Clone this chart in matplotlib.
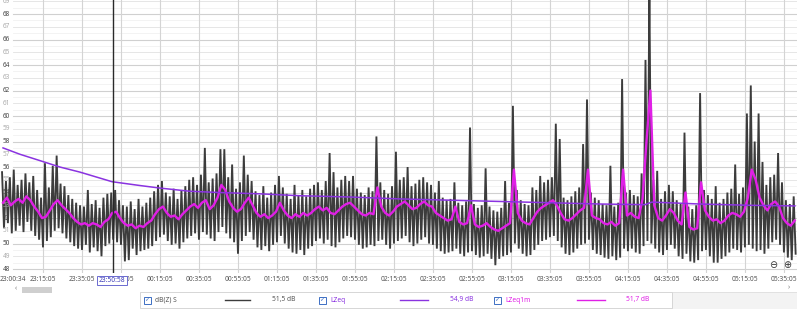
import numpy as np
import matplotlib
matplotlib.use('Agg')
import matplotlib.pyplot as plt
from matplotlib.patches import Rectangle
from matplotlib.lines import Line2D

plt.rcParams['font.family'] = ['Noto Sans', 'DejaVu Sans']

# ---- data (minutes after 23:15:05, one bin every 2 min) ----
t_start = -20.5
bin_min = 2.0

lzeq1m = [53.2, 53.6, 53.0, 53.3, 53.5, 53.2, 53.7, 53.4, 52.9, 52.5,
          52.0, 52.1, 52.6, 53.1, 53.4, 53.0, 52.7, 52.4, 52.0, 51.7,
          51.5, 51.6, 51.4, 51.6, 51.5, 51.3, 51.7, 51.9, 52.4, 52.5,
          52.0, 51.6, 51.4, 51.5, 51.2, 51.4, 51.3, 51.6, 51.8, 52.3,
          52.7, 52.9, 52.4, 52.1, 52.2, 51.9, 52.3, 52.6, 52.9, 53.1,
          52.8, 53.2, 53.4, 52.7, 53.0, 53.6, 54.6, 54.2, 53.3, 52.8,
          52.5, 52.7, 53.2, 53.6, 53.0, 52.4, 52.1, 52.3, 52.0, 52.2,
          52.5, 53.2, 52.6, 52.2, 52.0, 52.3, 52.1, 52.4, 52.2, 52.4,
          52.7, 52.9, 52.6, 52.8, 52.4, 52.3, 52.6, 52.9, 53.1, 53.2,
          52.9, 52.6, 52.3, 52.2, 52.4, 52.3, 54.4, 52.9, 52.4, 52.2,
          52.5, 52.9, 53.1, 53.3, 53.0, 52.7, 52.8, 53.1, 53.3, 53.0,
          52.9, 52.4, 52.2, 52.0, 51.8, 51.9, 52.9, 51.7, 51.5, 51.6,
          53.0, 51.5, 51.3, 51.4, 51.6, 51.3, 51.1, 51.0, 51.2, 51.4,
          51.6, 55.8, 52.4, 51.8, 51.6, 51.5, 52.0, 52.5, 52.8, 53.0,
          53.2, 53.4, 53.0, 52.4, 51.9, 51.8, 52.0, 52.3, 52.6, 52.8,
          55.8, 52.2, 52.0, 51.9, 51.6, 51.5, 51.7, 51.4, 51.6, 55.8,
          52.2, 52.4, 52.1, 52.0, 53.5, 58.0, 62.0, 53.0, 52.0, 51.8,
          52.2, 52.7, 52.4, 51.8, 51.5, 54.0, 51.3, 51.1, 51.2, 54.8,
          52.6, 52.1, 51.8, 51.9, 51.6, 51.8, 52.2, 52.4, 52.3, 52.1,
          52.5, 53.6, 55.8, 55.0, 53.6, 53.0, 52.6, 53.1, 53.3, 52.9,
          52.0, 51.6, 51.4, 51.8]

# dB(Z) S: highest and lowest reading inside each bin
dbz_hi = [55.6, 54.9, 55.2, 55.8, 54.6, 55.0, 55.5, 54.8, 55.3, 54.2,
          53.6, 56.3, 54.4, 56.1, 56.9, 54.7, 54.5, 53.8, 53.5, 53.2,
          53.0, 52.9, 54.2, 53.1, 53.4, 52.8, 53.6, 53.9, 54.0, 54.2,
          53.4, 53.0, 52.9, 53.3, 52.7, 53.5, 52.9, 53.2, 53.6, 54.1,
          54.6, 54.9, 54.0, 53.7, 54.3, 53.5, 54.2, 54.5, 55.0, 55.2,
          54.6, 55.4, 57.5, 54.8, 55.1, 55.5, 57.4, 57.4, 55.2, 56.2,
          54.3, 54.8, 56.9, 55.4, 54.9, 54.1, 53.8, 54.5, 53.6, 54.0,
          54.6, 55.3, 54.4, 53.9, 53.5, 54.6, 53.8, 54.2, 53.7, 54.3,
          54.6, 54.8, 54.2, 54.9, 57.1, 55.6, 54.4, 55.0, 55.3, 54.9,
          55.3, 54.3, 54.0, 53.8, 54.4, 54.1, 58.4, 54.8, 54.2, 53.9,
          54.5, 57.2, 55.0, 55.2, 56.0, 54.5, 54.7, 55.0, 55.2, 54.8,
          54.6, 54.0, 54.9, 53.6, 53.4, 53.5, 54.8, 53.2, 53.0, 53.3,
          59.1, 53.1, 52.8, 53.0, 55.9, 52.9, 52.6, 52.5, 52.8, 54.9,
          53.2, 60.8, 54.2, 53.4, 53.1, 53.0, 54.4, 54.2, 55.3, 54.8,
          55.0, 55.2, 59.4, 58.2, 53.6, 53.4, 53.7, 54.1, 54.4, 57.8,
          61.3, 54.0, 53.6, 53.4, 53.1, 53.0, 56.1, 52.9, 53.2, 62.9,
          54.0, 54.2, 53.8, 53.7, 55.5, 64.4, 70.0, 55.0, 55.7, 53.5,
          54.1, 54.6, 54.1, 53.4, 53.1, 58.7, 52.9, 52.7, 53.0, 61.8,
          54.2, 53.8, 53.5, 54.5, 53.2, 53.5, 54.0, 54.3, 56.2, 53.9,
          54.4, 60.2, 62.4, 58.0, 60.2, 56.4, 54.6, 55.2, 55.4, 57.1,
          54.8, 53.4, 53.1, 53.7]

dbz_lo = [51.2, 51.6, 50.8, 51.0, 51.4, 50.9, 51.7, 51.0, 50.6, 50.3,
          49.7, 50.2, 50.5, 51.0, 51.2, 50.8, 50.4, 50.1, 49.8, 49.6,
          49.5, 49.9, 49.3, 49.7, 49.4, 49.0, 49.8, 50.0, 50.3, 50.1,
          49.9, 48.6, 48.7, 49.6, 49.1, 49.4, 49.5, 49.6, 49.8, 50.2,
          50.5, 50.7, 50.2, 49.9, 50.0, 49.6, 50.1, 50.4, 50.6, 50.8,
          50.3, 50.9, 50.7, 50.4, 50.2, 50.9, 51.3, 50.8, 50.4, 50.1,
          49.2, 50.2, 50.6, 50.9, 50.3, 49.7, 49.5, 49.8, 49.4, 49.9,
          50.1, 50.6, 50.0, 49.6, 49.3, 49.2, 49.5, 49.1, 49.6, 49.8,
          50.2, 50.4, 50.0, 50.3, 49.8, 49.7, 50.1, 50.4, 50.6, 50.5,
          50.3, 49.9, 49.6, 49.7, 49.9, 49.8, 50.2, 50.3, 49.9, 49.6,
          50.0, 50.2, 50.4, 50.6, 50.1, 49.8, 50.0, 50.3, 50.5, 50.0,
          49.9, 49.6, 49.4, 49.2, 49.3, 49.4, 49.6, 49.2, 49.0, 49.3,
          49.4, 49.1, 48.9, 49.0, 49.2, 48.8, 48.3, 48.8, 49.0, 49.1,
          49.3, 50.0, 49.6, 49.2, 49.0, 49.1, 49.5, 49.9, 50.2, 50.3,
          50.5, 50.6, 50.2, 49.7, 49.2, 49.1, 49.3, 49.6, 49.9, 50.0,
          50.3, 49.5, 49.2, 49.1, 48.9, 48.8, 49.0, 48.7, 48.9, 49.6,
          49.4, 49.6, 49.3, 49.2, 49.8, 50.2, 50.0, 49.6, 49.3, 49.1,
          49.5, 49.9, 49.6, 49.0, 48.8, 49.2, 48.6, 48.5, 48.7, 49.4,
          49.5, 49.0, 48.5, 48.5, 48.8, 49.0, 49.3, 49.6, 49.5, 49.3,
          49.7, 49.9, 49.6, 49.4, 49.5, 49.2, 49.6, 50.1, 50.3, 49.9,
          49.3, 48.9, 48.7, 49.2]

# running LZeq
lzeq_t = [-20.5, -11.8, -1.5, 8.7, 19.0, 35.4, 49.7, 60.0, 75.4, 90.8, 111.0,
          131.8, 157.4, 183.0, 208.7, 234.4, 260.0, 285.6, 308.7, 312.3,
          337.0, 362.6, 385.6]
lzeq = [57.5, 57.0, 56.5, 56.0, 55.6, 54.85, 54.55, 54.35, 54.1, 54.0, 53.9,
        53.75, 53.65, 53.5, 53.4, 53.3, 53.2, 53.1, 53.05, 53.25,
        53.1, 53.0, 52.95]

tick_min = [0, 20, 40, 60, 80, 100, 120, 140, 160, 180, 200, 220, 240,
            260, 280, 300, 320, 340, 360, 380]
tick_txt = ['23:15:05', '23:35:05', '23:55:05', '00:15:05', '00:35:05',
            '00:55:05', '01:15:05', '01:35:05', '01:55:05', '02:15:05',
            '02:35:05', '02:55:05', '03:15:05', '03:35:05', '03:55:05',
            '04:15:05', '04:35:05', '04:55:05', '05:15:05', '05:35:05']
cursor_min = 35.88
cursor_txt = '23:50:58'

GRAY = '#3c3c3c'
MAG = '#e01fe6'
PUR = '#8a33e0'

W, H = 797, 309
fig = plt.figure(figsize=(W / 100, H / 100), dpi=100)
fig.patch.set_facecolor('white')


def fx(px):
    return px / W


def fy(py):
    return 1 - py / H


ax = fig.add_axes([0, fy(273), 1, 273 / H])
x_left, x_right = -22.05, 386.7
ax.set_xlim(x_left, x_right)
ax.set_ylim(47.69, 69.1)
for s in ax.spines.values():
    s.set_visible(False)

# grid
gx0 = 13 / W
for v in np.arange(48, 69.5, 0.5):
    if v % 2 == 0:
        c, lw = '#d0d0d0', 0.8
    elif v % 1 == 0:
        c, lw = '#e2e2e2', 0.6
    else:
        c, lw = '#eeeeee', 0.5
    ax.axhline(v, xmin=gx0, color=c, lw=lw, zorder=0)
for tm in tick_min:
    ax.axvline(tm, color='#d4d4d4', lw=0.8, zorder=0)

# y labels inside the plot
for v in range(48, 70):
    ax.text(0.003, v, str(v), transform=ax.get_yaxis_transform(),
            ha='left', va='center', fontsize=4.6,
            color='#444444' if v % 2 == 0 else '#aaaaaa', clip_on=True)

# series
t = t_start + bin_min * np.arange(len(lzeq1m))
tz = np.column_stack([t - 0.5, t + 0.5]).ravel()
vz = np.column_stack([dbz_hi, dbz_lo]).ravel()
ax.plot(tz, vz, color=GRAY, lw=1.35, zorder=2, solid_joinstyle='miter')
ax.plot(t, lzeq1m, color=MAG, lw=1.7, zorder=3)
ax.plot(lzeq_t, lzeq, color=PUR, lw=1.1, zorder=4)

# cursor
ax.axvline(cursor_min, color='#2a2a2a', lw=1.0, zorder=5)

# x ticks
ax.set_xticks([x_left] + tick_min, ['23:00:34'] + tick_txt)
ax.tick_params(axis='x', length=0, pad=2.5, labelsize=4.8, labelcolor='#555555')
ax.tick_params(axis='y', left=False, labelleft=False)
ax.get_xticklabels()[0].set_ha('left')
ax.text(cursor_min - 0.5, -0.027, cursor_txt, transform=ax.get_xaxis_transform(),
        ha='center', va='center', fontsize=4.8, color='#3a3ab8', zorder=10,
        bbox=dict(boxstyle='square,pad=0.2', fc='white', ec='#6a6ad0', lw=0.7))

# zoom buttons
fig.text(fx(773), fy(266), '\u2296', fontsize=7, color='#333333', ha='center', va='center')
fig.text(fx(787), fy(266), '\u2295', fontsize=7, color='#333333', ha='center', va='center')

# scrollbar
fig.text(fx(16), fy(289), '\u2039', fontsize=5, color='#777777', ha='center', va='center')
fig.add_artist(Rectangle((fx(22), fy(293)), 30 / W, 6 / H, transform=fig.transFigure,
                         fc='#cfcfcf', ec='none'))
fig.text(fx(789), fy(288), '\u203a', fontsize=5, color='#777777', ha='center', va='center')

# legend strip
fig.add_artist(Rectangle((fx(672), 0), 125 / W, 17 / H, transform=fig.transFigure,
                         fc='#f3f3f3', ec='#dddddd', lw=0.6))
fig.add_artist(Rectangle((fx(140), fy(308)), 532 / W, 16 / H, transform=fig.transFigure,
                         fc='white', ec='#d6d6d6', lw=0.7))

legend_rows = [
    (147, 'dB(Z) S', '#555555', GRAY, 225, 250, '51,5 dB', 296),
    (322, 'LZeq', PUR, PUR, 400, 428, '54,9 dB', 474),
    (497, 'LZeq1m', MAG, MAG, 577, 605, '51,7 dB', 649),
]
ly = fy(300)
for cbx, name, tcol, lcol, l0, l1, val, vx in legend_rows:
    fig.add_artist(Rectangle((fx(cbx - 3.5), fy(303.5)), 7 / W, 7 / H,
                             transform=fig.transFigure, fc='white', ec='#3d6fc4', lw=0.7))
    fig.text(fx(cbx), ly, '\u2713', fontsize=4.5, color='#3d6fc4', ha='center', va='center')
    fig.text(fx(cbx + 8), ly, name, fontsize=4.8, color=tcol, ha='left', va='center')
    fig.add_artist(Line2D([fx(l0), fx(l1)], [ly, ly], transform=fig.transFigure,
                          color=lcol, lw=1.0))
    fig.text(fx(vx), ly, val, fontsize=4.8, color=tcol, ha='right', va='center')

fig.savefig('out.png', dpi=100)
